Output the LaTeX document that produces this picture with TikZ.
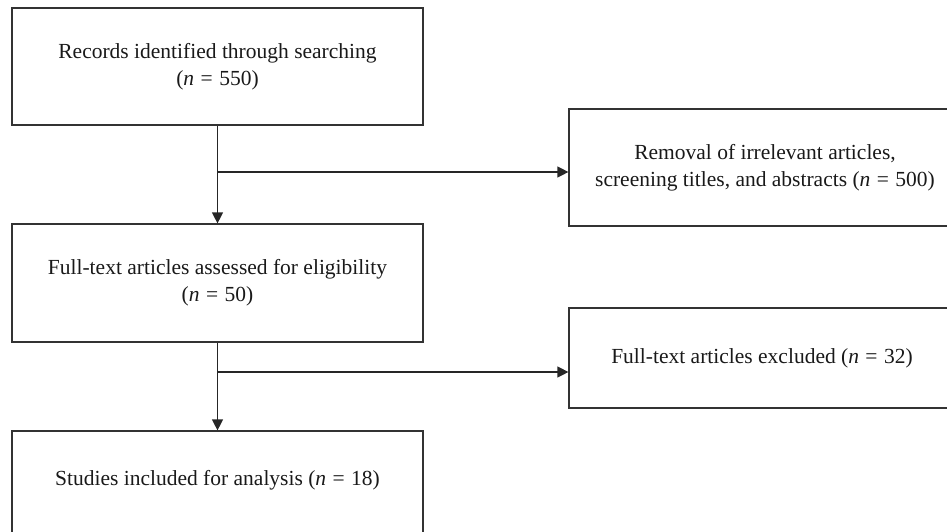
\documentclass[tikz,border=0pt]{standalone}
\usepackage{fontspec}
\setmainfont{Liberation Serif}
\usetikzlibrary{arrows.meta}
\newcommand{\nn}{\textit{n}\hspace{0.3em}=\hspace{0.3em}}
\begin{document}
\begin{tikzpicture}[x=1pt,y=-1pt,
  box/.style={draw=black!80, line width=1.2pt, minimum width=411pt, align=center, inner sep=0pt,
    font=\fontsize{21.5}{27}\selectfont, text=black!90},
  rbox/.style={box, minimum width=392pt},
  txt/.style={align=center, inner sep=0pt, font=\fontsize{21.5}{27}\selectfont, text=black!90},
  arr/.style={draw=black!85, line width=1.2pt, -{Triangle[length=11pt,width=11pt]}}]
\useasboundingbox (0,0) rectangle (947,531);
\clip (0,0) rectangle (947,531);
\node[box, minimum height=117pt] (b1) at (217.5,66.5) {Records identified through searching\\(\nn550)};
\node[rbox, minimum height=117pt] (b2) at (765,167.5) {Removal of irrelevant articles,\\screening titles, and abstracts (\nn500)};
\node[box, minimum height=118pt] (b3) at (217.5,283) {Full-text articles assessed for eligibility\\(\nn50)};
\node[rbox, minimum width=386pt, minimum height=100pt] (b4) at (762,358) {Full-text articles excluded (\nn32)};
\node[box, minimum height=120pt] (b5) at (217.5,491) {};
\node[txt] (t5) at (217.5,480) {Studies included for analysis (\nn18)};
\coordinate (j1) at (217.5,172);
\coordinate (j2) at (217.5,372);
\draw[arr] (b1.south) -- (b3.north);
\draw[arr] (j1) -- (b2.west |- j1);
\draw[arr] (b3.south) -- (b5.north);
\draw[arr] (j2) -- (b4.west |- j2);
\end{tikzpicture}
\end{document}
